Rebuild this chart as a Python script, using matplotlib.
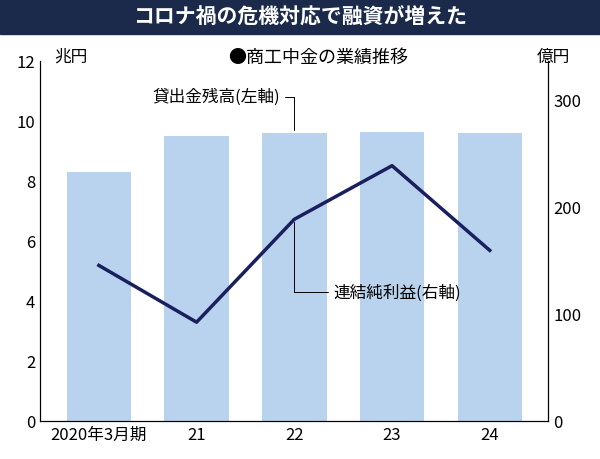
import matplotlib.pyplot as plt

plt.rcParams['font.family'] = 'Noto Sans CJK JP'

years = ['2020年3月期', '21', '22', '23', '24']
loans = [8.3, 9.5, 9.6, 9.62, 9.6]        # 兆円 (左軸)
profit = [145, 92, 188, 238, 159]          # 億円 (右軸)

fig = plt.figure(figsize=(6, 4.6), dpi=100)
fig.patch.set_facecolor('white')

# タイトルバー
fig.patches.append(plt.Rectangle((0, 0.925), 1, 0.075, transform=fig.transFigure,
                                 color='#1b2a4a', zorder=0))
fig.text(0.5, 0.962, 'コロナ禍の危機対応で融資が増えた', color='white',
         ha='center', va='center', fontsize=15, fontweight='bold')

ax = fig.add_axes([0.067, 0.083, 0.847, 0.783])
x = range(len(years))
ax.bar(x, loans, width=0.66, color='#b9d3ee')
ax.set_ylim(0, 12)
ax.set_yticks(range(0, 13, 2))
ax.set_xlim(-0.6, 4.6)
ax.set_xticks(list(x))
ax.set_xticklabels(years, fontsize=12)
ax.tick_params(labelsize=12, direction='in', length=0)
for s in ['top']:
    ax.spines[s].set_visible(False)

ax2 = ax.twinx()
ax2.plot(x, profit, color='#1a1f5e', lw=2.5)
ax2.set_ylim(0, 336)
ax2.set_yticks([0, 100, 200, 300])
ax2.tick_params(labelsize=12, direction='in', length=0)
ax2.spines['top'].set_visible(False)

fig.text(0.09, 0.875, '兆円', fontsize=12, va='center')
fig.text(0.895, 0.875, '億円', fontsize=12, va='center')
fig.text(0.53, 0.875, '●商工中金の業績推移', fontsize=13, va='center', ha='center')

# 注記
ax.annotate('貸出金残高(左軸)', xy=(2, 9.6), xytext=(1.85, 10.8), fontsize=12,
            ha='right', va='center',
            arrowprops=dict(arrowstyle='-', lw=0.7, connectionstyle='angle,angleA=0,angleB=90'))
ax2.annotate('連結純利益(右軸)', xy=(2, 188), xytext=(2.4, 120), fontsize=12,
             ha='left', va='center',
             arrowprops=dict(arrowstyle='-', lw=0.7, connectionstyle='angle,angleA=0,angleB=90'))

fig.savefig('out.png', dpi=100)
